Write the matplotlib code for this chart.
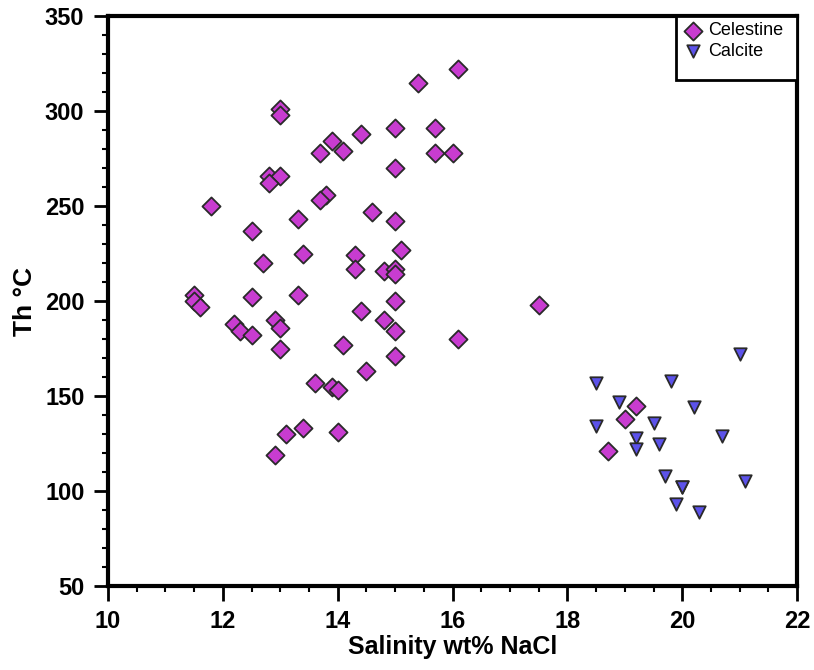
import matplotlib
matplotlib.use("Agg")
import matplotlib.pyplot as plt
from matplotlib.ticker import MultipleLocator
from matplotlib.patches import Rectangle

plt.rcParams['font.family'] = ['Liberation Sans', 'DejaVu Sans']

celestine_x = [16.1, 15.4, 13.0, 13.0, 15.0, 15.7, 14.4, 13.9, 13.7, 14.1, 15.7, 16.0,
               15.0, 12.8, 13.0, 12.8, 11.8, 13.8, 13.7, 13.3, 14.6, 15.0, 12.5, 12.7,
               13.4, 14.3, 15.1, 14.3, 14.8, 15.0, 15.0,
               11.5, 11.5, 11.6, 12.5, 13.3, 15.0, 17.5, 14.4, 14.8, 15.0, 12.2, 12.3,
               12.5, 12.9, 13.0, 13.0, 14.1, 16.1, 15.0, 14.5, 13.6, 13.9, 14.0, 13.1,
               13.4, 14.0, 12.9, 19.2, 19.0, 18.7]
celestine_y = [322, 315, 301, 298, 291, 291, 288, 284, 278, 279, 278, 278,
               270, 266, 266, 262, 250, 256, 253, 243, 247, 242, 237, 220,
               225, 224, 227, 217, 216, 217, 214,
               203, 200, 197, 202, 203, 200, 198, 195, 190, 184, 188, 184,
               182, 190, 186, 175, 177, 180, 171, 163, 157, 155, 153, 130,
               133, 131, 119, 145, 138, 121]

calcite_x = [21.0, 18.5, 19.8, 18.9, 20.2, 18.5, 19.5, 20.7, 19.2, 19.6, 19.2,
             19.7, 21.1, 20.0, 20.0, 19.9, 20.3]
calcite_y = [172, 157, 158, 147, 144, 134, 136, 129, 128, 125, 122,
             108, 105, 102, 102, 93, 89]

fig = plt.figure(figsize=(8.14, 6.70), dpi=100)
ax = fig.add_axes([0.1327, 0.1254, 0.8465, 0.8506])

ax.scatter(celestine_x, celestine_y, marker='D', s=85, facecolor='#c83cd0',
           edgecolor='#2a2a2a', linewidth=1.3, label='Celestine', zorder=3)
ax.scatter(calcite_x, calcite_y, marker='v', s=80, facecolor='#5c52ea',
           edgecolor='#2a2a2a', linewidth=1.3, label='Calcite', zorder=3)

ax.set_xlim(10, 22)
ax.set_ylim(50, 350)
ax.xaxis.set_major_locator(MultipleLocator(2))
ax.xaxis.set_minor_locator(MultipleLocator(0.5))
ax.yaxis.set_major_locator(MultipleLocator(50))
ax.yaxis.set_minor_locator(MultipleLocator(10))
ax.tick_params(axis='x', which='major', direction='out', length=11, width=2,
               labelsize=17, pad=6)
ax.tick_params(axis='y', which='major', direction='out', length=10, width=2,
               labelsize=17, pad=7)
ax.tick_params(which='minor', direction='out', length=4, width=1.5)
ax.tick_params(top=False, right=False)
for lab in ax.get_xticklabels() + ax.get_yticklabels():
    lab.set_fontweight('bold')
for sp in ax.spines.values():
    sp.set_linewidth(3)

ax.set_xlabel('Salinity wt% NaCl', fontsize=18, fontweight='bold', labelpad=2)
ax.set_ylabel('Th °C', fontsize=19, fontweight='bold', labelpad=6)

# legend box (frame drawn separately to match the reference's tall box)
x0 = (676 - 108) / 689.0
y0 = 1 - (80 - 16) / 570.0
ax.add_patch(Rectangle((x0, y0), 1 - x0, 1 - y0, transform=ax.transAxes,
                       facecolor='white', edgecolor='black', linewidth=2, zorder=4))
leg = ax.legend(loc='upper left', bbox_to_anchor=(x0, 1.0), frameon=False,
                fontsize=13, borderaxespad=0, handletextpad=0.2, borderpad=0.35,
                handlelength=1.2, labelspacing=0.2, markerscale=1.0)
leg.set_zorder(5)

fig.savefig('out.png', dpi=100)
